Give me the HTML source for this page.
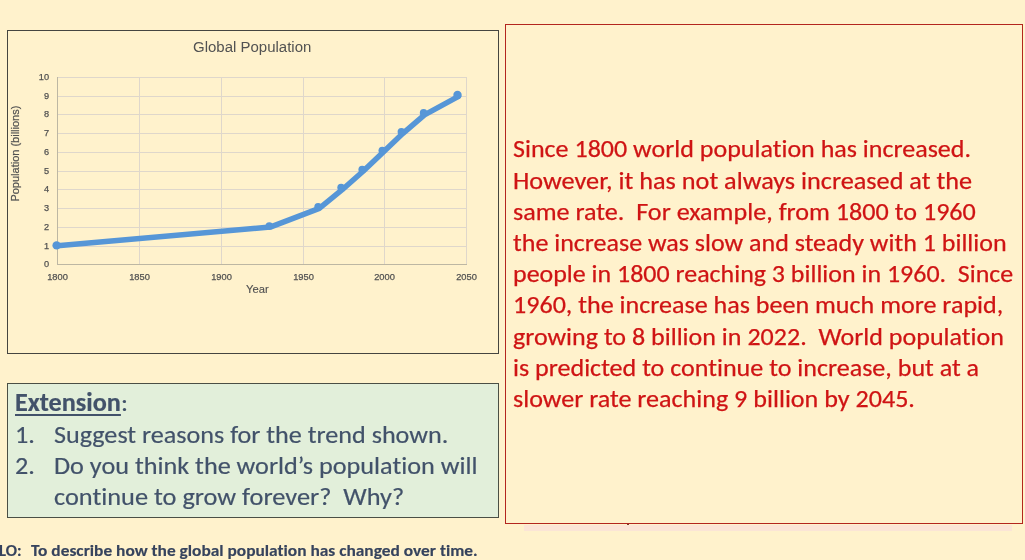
<!DOCTYPE html>
<html>
<head>
<meta charset="utf-8">
<style>
html,body{margin:0;padding:0;}
body{width:1025px;height:560px;overflow:hidden;background:#FFF2CC;position:relative;font-family:Carlito,"Liberation Sans",sans-serif;font-variant-ligatures:none;font-feature-settings:"liga" 0,"clig" 0;}
.box{position:absolute;box-sizing:border-box;}
#chart{left:7px;top:30px;width:492px;height:324px;border:1px solid #454540;}
#ext{left:7px;top:383px;width:492px;height:135px;border:1px solid #4A4F45;background:#E2EFDA;}
#red{left:505px;top:24px;width:518px;height:500px;border:1px solid #B3261E;}
#band{position:absolute;left:524px;top:525px;width:488px;height:6px;background:#FBE5D6;}
.ln{position:absolute;white-space:pre;font-size:25.3px;line-height:30px;transform:scaleX(1.030);transform-origin:0 0;}
.u{text-decoration:underline;text-decoration-thickness:2px;text-underline-offset:2.5px;}
.rt{color:#CF1414;-webkit-text-stroke:0.25px #CF1414;left:513px;}
.et{color:#42526A;-webkit-text-stroke:0.2px #42526A;transform:scaleX(1.036);}
.lo{position:absolute;top:540px;white-space:pre;font-weight:bold;font-size:16.6px;line-height:20px;color:#36435D;-webkit-text-stroke:0.15px #36435D;transform-origin:0 0;}
svg{position:absolute;left:0;top:0;}
svg text{font-family:"Liberation Sans",Arial,sans-serif;fill:#525252;}
</style>
</head>
<body>
<div id="band"></div>
<div style="position:absolute;left:626.6px;top:523.6px;width:2px;height:1.4px;background:#6A2014;border-radius:1px"></div>
<div class="box" id="chart"></div>
<div class="box" id="ext"></div>
<div class="box" id="red"></div>

<svg width="1025" height="560" viewBox="0 0 1025 560">
  <g stroke="#DFD7CB" stroke-width="1" fill="none" shape-rendering="crispEdges">
    <line x1="57" y1="77.5" x2="467" y2="77.5"/>
    <line x1="57" y1="96.5" x2="467" y2="96.5"/>
    <line x1="57" y1="114.5" x2="467" y2="114.5"/>
    <line x1="57" y1="133.5" x2="467" y2="133.5"/>
    <line x1="57" y1="152.5" x2="467" y2="152.5"/>
    <line x1="57" y1="171.5" x2="467" y2="171.5"/>
    <line x1="57" y1="189.5" x2="467" y2="189.5"/>
    <line x1="57" y1="208.5" x2="467" y2="208.5"/>
    <line x1="57" y1="227.5" x2="467" y2="227.5"/>
    <line x1="57" y1="246.5" x2="467" y2="246.5"/>
    <line x1="139.5" y1="77" x2="139.5" y2="264"/>
    <line x1="221.5" y1="77" x2="221.5" y2="264"/>
    <line x1="303.5" y1="77" x2="303.5" y2="264"/>
    <line x1="384.5" y1="77" x2="384.5" y2="264"/>
    <line x1="466.5" y1="77" x2="466.5" y2="264"/>
  </g>
  <g stroke="#BDB7A3" stroke-width="1" shape-rendering="crispEdges">
    <line x1="57.5" y1="77" x2="57.5" y2="265"/>
    <line x1="57" y1="264.5" x2="467" y2="264.5"/>
  </g>
  <text transform="translate(252.2,51.9) scale(1,1.035)" font-size="15" text-anchor="middle">Global Population</text>
  <g font-size="9.2" text-anchor="end" stroke="#525252" stroke-width="0.25">
    <text x="49" y="267.0">0</text>
    <text x="49" y="249.0">1</text>
    <text x="49" y="230.0">2</text>
    <text x="49" y="211.0">3</text>
    <text x="49" y="192.0">4</text>
    <text x="49" y="174.0">5</text>
    <text x="49" y="155.0">6</text>
    <text x="49" y="136.0">7</text>
    <text x="49" y="117.0">8</text>
    <text x="49" y="99.0">9</text>
    <text x="49" y="80.0">10</text>
  </g>
  <g font-size="9.3" text-anchor="middle" stroke="#525252" stroke-width="0.25">
    <text x="57.5" y="279.8">1800</text>
    <text x="139.5" y="279.8">1850</text>
    <text x="221.5" y="279.8">1900</text>
    <text x="303.5" y="279.8">1950</text>
    <text x="384.5" y="279.8">2000</text>
    <text x="466.5" y="279.8">2050</text>
  </g>
  <text x="257.4" y="292.8" font-size="11.2" text-anchor="middle" stroke="#525252" stroke-width="0.15">Year</text>
  <text transform="translate(18.9,153.6) rotate(-90) scale(1,1.06)" font-size="11" text-anchor="middle" stroke="#525252" stroke-width="0.2">Population (billions)</text>
  <polyline fill="none" stroke="#5696D7" stroke-width="5.5" stroke-linejoin="round" stroke-linecap="round" points="57.5,245.8 270.2,227.1 319.3,208.4 342.2,189.7 363.4,171.0 383.1,152.3 402.7,133.6 424.5,114.9 458.5,96.3"/>
  <g fill="#5696D7">
    <circle cx="56.6" cy="245.4" r="4.2"/>
    <circle cx="269.3" cy="226.1" r="3.8"/>
    <circle cx="318.1" cy="206.8" r="3.8"/>
    <circle cx="341.1" cy="187.5" r="3.8"/>
    <circle cx="362.2" cy="169.5" r="3.8"/>
    <circle cx="382.3" cy="150.6" r="3.8"/>
    <circle cx="401.4" cy="131.8" r="3.8"/>
    <circle cx="423.6" cy="112.7" r="3.8"/>
    <circle cx="457.5" cy="95.0" r="4.2"/>
  </g>
</svg>

<div class="ln rt" style="top:133.75px;transform:scaleX(1.0287)">Since 1800 world population has increased.</div>
<div class="ln rt" style="top:165.75px;transform:scaleX(1.0368)">However, it has not always increased at the</div>
<div class="ln rt" style="top:196.65px;transform:scaleX(1.0327)">same rate.  For example, from 1800 to 1960</div>
<div class="ln rt" style="top:227.65px;transform:scaleX(1.0286)">the increase was slow and steady with 1 billion</div>
<div class="ln rt" style="top:258.55px;transform:scaleX(1.0258)">people in 1800 reaching 3 billion in 1960.  Since</div>
<div class="ln rt" style="top:289.75px;transform:scaleX(1.0306)">1960, the increase has been much more rapid,</div>
<div class="ln rt" style="top:321.55px;transform:scaleX(1.0286)">growing to 8 billion in 2022.  World population</div>
<div class="ln rt" style="top:352.55px;transform:scaleX(1.03)">is predicted to continue to increase, but at a</div>
<div class="ln rt" style="top:383.65px;transform:scaleX(1.0308)">slower rate reaching 9 billion by 2045.</div>
<div class="ln et" style="top:388.15px;left:15.3px;transform:scaleX(1.036)"><b class="u">Extension</b>:</div>
<div class="ln et" style="top:420.25px;left:15.3px;transform:scaleX(1.036)">1.</div>
<div class="ln et" style="top:420.25px;left:54.2px;transform:scaleX(1.0332)">Suggest reasons for the trend shown.</div>
<div class="ln et" style="top:451.15px;left:15.3px;transform:scaleX(1.036)">2.</div>
<div class="ln et" style="top:451.15px;left:54.2px;transform:scaleX(1.036)">Do you think the world’s population will</div>
<div class="ln et" style="top:481.65px;left:54.2px;transform:scaleX(1.0411)">continue to grow forever?  Why?</div>
<div class="lo" style="left:-1.2px;transform:scaleX(0.9999)">LO:</div>
<div class="lo" style="left:31.1px;transform:scaleX(1.047)">To describe how the global population has changed over time.</div>
<script>
(function(){
var W=[458.02,459.01,462.85,493.72,500.24,490.3,490.88,466.05,401.95,112.92,19.91,394.3,19.91,423.51,350.25,22.53,446.73];
function fit(){
  var els=document.querySelectorAll('.ln,.lo');
  for(var i=0;i<els.length&&i<W.length;i++){
    var e=els[i];
    e.style.transform='none';
    var w=e.getBoundingClientRect().width;
    if(w>0){e.style.transform='scaleX('+(W[i]/w).toFixed(4)+')';}
  }
}
fit();
if(document.fonts&&document.fonts.ready){document.fonts.ready.then(fit);}
window.addEventListener('load',fit);
})();
</script>
</body>
</html>
